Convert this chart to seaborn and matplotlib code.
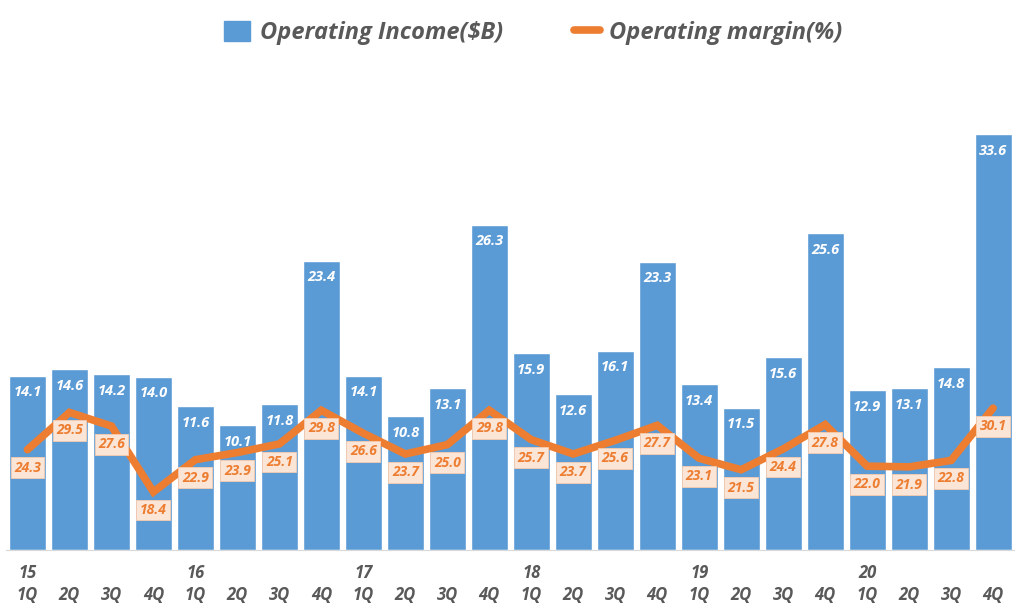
import matplotlib
matplotlib.use("Agg")
import matplotlib.pyplot as plt
import seaborn as sns
import pandas as pd
import numpy as np
from matplotlib.patches import Patch
from matplotlib.lines import Line2D

# data
years = ["15", "16", "17", "18", "19", "20"]
quarters = ["1Q", "2Q", "3Q", "4Q"]
operating_income = [14.1, 14.6, 14.2, 14.0, 11.6, 10.1, 11.8, 23.4,
                    14.1, 10.8, 13.1, 26.3, 15.9, 12.6, 16.1, 23.3,
                    13.4, 11.5, 15.6, 25.6, 12.9, 13.1, 14.8, 33.6]
operating_margin = [24.3, 29.5, 27.6, 18.4, 22.9, 23.9, 25.1, 29.8,
                    26.6, 23.7, 25.0, 29.8, 25.7, 23.7, 25.6, 27.7,
                    23.1, 21.5, 24.4, 27.8, 22.0, 21.9, 22.8, 30.1]

BLUE = "#5B9BD5"
ORANGE = "#ED7D31"
GRAY = "#595959"

sns.set_style("white")
plt.rcParams["font.family"] = ["Open Sans", "DejaVu Sans"]

period = [f"{y}-{q}" for y in years for q in quarters]
df = pd.DataFrame({"period": period,
                   "pos": np.arange(len(period)),
                   "income": operating_income,
                   "margin": operating_margin})

fig = plt.figure(figsize=(10.24, 6.09), dpi=100)
ax = fig.add_axes([0.0063, 0.0969, 0.984, 0.780])

sns.barplot(data=df, x="period", y="income", color=BLUE, width=0.88,
            saturation=1, ax=ax)
ax.set_ylim(0, 38.4)
ax.set_xlim(-0.5, len(period) - 0.5)

for i, v in enumerate(operating_income):
    ax.annotate(f"{v:.1f}", (i, v), xytext=(0, -12), textcoords="offset points",
                ha="center", va="center", color="white", fontsize=10.5,
                fontweight="bold", fontstyle="italic")

ax2 = ax.twinx()
sns.lineplot(data=df, x="pos", y="margin", color=ORANGE, linewidth=5.5,
             ax=ax2, solid_joinstyle="miter")
ax2.set_ylim(10.3, 76.6)
ax2.set_xlim(-0.5, len(period) - 0.5)

for i, v in enumerate(operating_margin):
    ax2.annotate(f"{v:.1f}", (i, v), xytext=(0, -13), textcoords="offset points",
                 ha="center", va="center", color=ORANGE, fontsize=10,
                 fontweight="bold", fontstyle="italic",
                 bbox=dict(boxstyle="square,pad=0.25", facecolor="#FBE5D6",
                           edgecolor="#F8CBAD", linewidth=0.6))

# two-row x labels: year above first quarter
labels = []
for y in years:
    for j, q in enumerate(quarters):
        labels.append(f"{y}\n{q}" if j == 0 else f"\n{q}")
ax.set_xticks(np.arange(len(period)))
ax.set_xticklabels(labels, color=GRAY, fontsize=12, fontweight="bold",
                   fontstyle="italic", linespacing=1.3)
ax.tick_params(axis="x", length=0, pad=10)
ax.set_xlabel("")
ax.set_ylabel("")
ax.set_yticks([])
ax2.set_yticks([])
ax2.set_xlabel("")
ax2.set_ylabel("")

for a in (ax, ax2):
    for s in ["top", "right", "left"]:
        a.spines[s].set_visible(False)
ax.spines["bottom"].set_color("#D9D9D9")
ax2.spines["bottom"].set_visible(False)

handles = [Patch(facecolor=BLUE, edgecolor=BLUE),
           Line2D([0], [0], color=ORANGE, linewidth=5.5, solid_capstyle="round")]
fig.legend(handles, ["Operating Income($B)", "Operating margin(%)"],
           loc="center", bbox_to_anchor=(0.521, 0.946), ncol=2, frameon=False,
           prop={"size": 17, "weight": "bold", "style": "italic"},
           labelcolor=GRAY, handlelength=1.1, handleheight=0.9,
           columnspacing=3.0, handletextpad=0.4)

fig.savefig("out.png", dpi=100)
